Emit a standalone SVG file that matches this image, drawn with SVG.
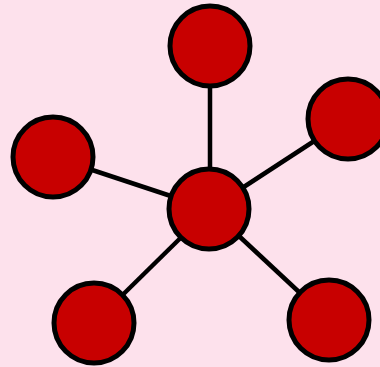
<svg xmlns="http://www.w3.org/2000/svg" width="380" height="367" viewBox="0 0 380 367">
<style>
.node{fill:#c80000;stroke:#000;stroke-width:5}
.edge{stroke:#000;stroke-width:4.5;fill:none}
</style>
<rect width="380" height="367" fill="#fde1ec"/>
<g id="connectors">
<line class="edge" x1="210" y1="209" x2="210" y2="46"/>
<line class="edge" x1="210" y1="209" x2="348" y2="119"/>
<line class="edge" x1="210" y1="209" x2="53" y2="157"/>
<line class="edge" x1="210" y1="209" x2="94" y2="323"/>
<line class="edge" x1="210" y1="209" x2="329" y2="320"/>
</g>
<g id="n-top"><circle class="node" cx="210" cy="46" r="40"/></g>
<g id="n-right"><circle class="node" cx="348" cy="119" r="40"/></g>
<g id="n-left"><circle class="node" cx="53" cy="157" r="40"/></g>
<g id="n-bottomleft"><circle class="node" cx="94" cy="323" r="40"/></g>
<g id="n-bottomright"><circle class="node" cx="329" cy="320" r="40"/></g>
<g id="n-center"><circle class="node" cx="209" cy="209" r="40"/></g>
</svg>
